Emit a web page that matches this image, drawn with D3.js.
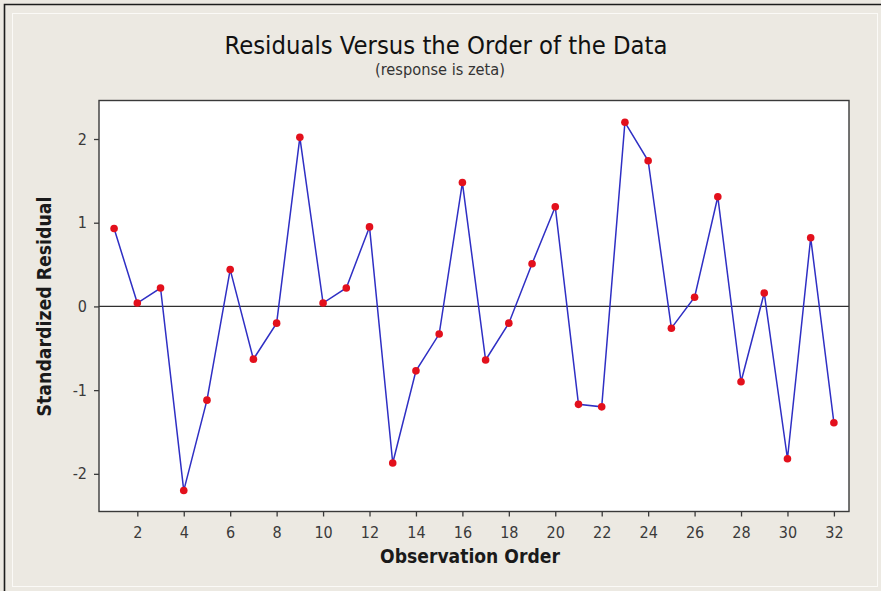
<!DOCTYPE html>
<html>
<head>
<meta charset="utf-8">
<script src="https://cdn.jsdelivr.net/npm/d3@7"></script>
<style>
  html, body { margin: 0; padding: 0; background: #ece9e2; }
  svg { display: block; }
</style>
</head>
<body>
<svg id="chart" width="881" height="591"></svg>
<script>
// Observation order and standardized residuals
const observation = [1, 2, 3, 4, 5, 6, 7, 8, 9, 10, 11, 12, 13, 14, 15, 16,
                     17, 18, 19, 20, 21, 22, 23, 24, 25, 26, 27, 28, 29, 30, 31, 32];
const residual = [0.93, 0.04, 0.22, -2.20, -1.12, 0.44, -0.63, -0.20,
                  2.02, 0.04, 0.22, 0.95, -1.87, -0.77, -0.33, 1.48,
                  -0.64, -0.20, 0.51, 1.19, -1.17, -1.20, 2.20, 1.74,
                  -0.26, 0.11, 1.31, -0.90, 0.16, -1.82, 0.82, -1.39];
const xTicks = [2, 4, 6, 8, 10, 12, 14, 16, 18, 20, 22, 24, 26, 28, 30, 32];
const yTicks = [-2, -1, 0, 1, 2];

const titleText = "Residuals Versus the Order of the Data";
const subtitleText = "(response is zeta)";
const xLabel = "Observation Order";
const yLabel = "Standardized Residual";

const data = observation.map((o, i) => ({ o, r: residual[i] }));

const svg = d3.select("#chart");
const W = 881, H = 591;
const plot = { left: 99, right: 849, top: 100.5, bottom: 511.5 };
const font = "'DejaVu Sans Condensed', 'DejaVu Sans', sans-serif";
const ink = "#3a3a3a";

// background panel and its window-style edges
svg.append("rect").attr("width", W).attr("height", H).attr("fill", "#ece9e2");
svg.append("rect")
  .attr("x", 12.5).attr("y", 13.5).attr("width", 865).attr("height", 573)
  .attr("fill", "none").attr("stroke", "#fbfaf7").attr("stroke-width", 1);
svg.append("path")
  .attr("d", `M4.5,${H} V4.5 H${W}`)
  .attr("fill", "none").attr("stroke", "#1c1c1c").attr("stroke-width", 1.6);

const x = d3.scaleLinear().domain([0.35, 32.65]).range([plot.left, plot.right]);
const y = d3.scaleLinear().domain([-2.45, 2.46]).range([plot.bottom, plot.top]);

// plot area
svg.append("rect")
  .attr("x", plot.left).attr("y", plot.top)
  .attr("width", plot.right - plot.left).attr("height", plot.bottom - plot.top)
  .attr("fill", "#ffffff");

// zero reference line
svg.append("line")
  .attr("x1", plot.left).attr("x2", plot.right)
  .attr("y1", y(0)).attr("y2", y(0))
  .attr("stroke", "#303030").attr("stroke-width", 1.2);

// connecting line and points
svg.append("path")
  .datum(data)
  .attr("fill", "none")
  .attr("stroke", "#2f2fc4")
  .attr("stroke-width", 1.5)
  .attr("stroke-linejoin", "miter")
  .attr("d", d3.line().x(d => x(d.o)).y(d => y(d.r)));

svg.append("g").selectAll("circle")
  .data(data)
  .join("circle")
  .attr("cx", d => x(d.o))
  .attr("cy", d => y(d.r))
  .attr("r", 3.8)
  .attr("fill", "#e3101c");

// frame
svg.append("rect")
  .attr("x", plot.left).attr("y", plot.top)
  .attr("width", plot.right - plot.left).attr("height", plot.bottom - plot.top)
  .attr("fill", "none").attr("stroke", "#3a3a3a").attr("stroke-width", 1.4);

// axes (plain integer labels with an ASCII hyphen for negatives)
const plain = d => String(d);
const xAxis = svg.append("g")
  .attr("transform", `translate(0,${plot.bottom})`)
  .call(d3.axisBottom(x).tickValues(xTicks).tickFormat(plain)
    .tickSize(5).tickPadding(10).tickSizeOuter(0));
const yAxis = svg.append("g")
  .attr("transform", `translate(${plot.left},0)`)
  .call(d3.axisLeft(y).tickValues(yTicks).tickFormat(plain)
    .tickSize(5).tickPadding(7).tickSizeOuter(0));

[xAxis, yAxis].forEach(g => {
  g.select(".domain").remove();
  g.selectAll(".tick line").attr("stroke", ink).attr("stroke-width", 1.3);
  g.selectAll(".tick text")
    .attr("fill", ink)
    .style("font-family", font)
    .style("font-size", "16px");
});

// text helper: shrink or grow the font so the string spans a given width
function fitText(sel, width) {
  const len = sel.node().getComputedTextLength();
  const size = parseFloat(sel.style("font-size"));
  sel.style("font-size", (size * width / len).toFixed(2) + "px");
  return sel;
}

const title = svg.append("text")
  .attr("x", 446).attr("y", 54)
  .attr("text-anchor", "middle")
  .attr("fill", "#111")
  .style("font-family", font)
  .style("font-size", "20px")
  .text(titleText);
fitText(title, 443);

const subtitle = svg.append("text")
  .attr("x", 440).attr("y", 75)
  .attr("text-anchor", "middle")
  .attr("fill", "#333")
  .style("font-family", font)
  .style("font-size", "14px")
  .text(subtitleText);
fitText(subtitle, 130);

const xl = svg.append("text")
  .attr("x", 470).attr("y", 563)
  .attr("text-anchor", "middle")
  .attr("fill", "#1a1a1a")
  .style("font-family", font)
  .style("font-weight", "bold")
  .style("font-size", "16px")
  .text(xLabel);
fitText(xl, 180);

const yl = svg.append("text")
  .attr("transform", `translate(51,306.5) rotate(-90)`)
  .attr("text-anchor", "middle")
  .attr("fill", "#1a1a1a")
  .style("font-family", font)
  .style("font-weight", "bold")
  .style("font-size", "16px")
  .text(yLabel);
fitText(yl, 220);
</script>
</body>
</html>
